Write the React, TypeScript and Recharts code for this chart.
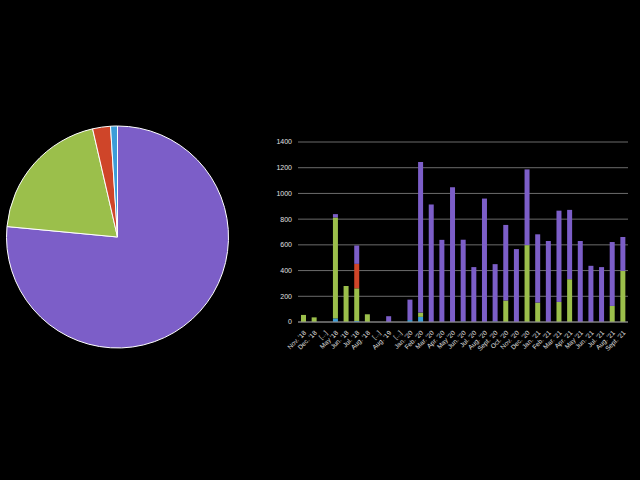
import { Bar, BarChart, CartesianGrid, Cell, Pie, PieChart, XAxis, YAxis } from 'recharts';

const months = [
  "Nov. '18", "Dec. '18", '[...]', "May '18", "Jun. '18", "Jul. '18", "Aug. '18", '[...]',
  "Aug. '19", '[...]', "Jan. '20", "Feb. '20", "Mar. '20", "Apr. '20", "May '20", "Jun. '20",
  "Jul. '20", "Aug. '20", "Sept. '20", "Oct. '20", "Nov. '20", "Dec. '20", "Jan. '21", "Feb. '21",
  "Mar. '21", "Apr. '21", "May '21", "Jun. '21", "Jul. '21", "Aug. '21", "Sept. '21",
];

const blueValues = [0, 0, 0, 28, 0, 8, 0, 0, 0, 0, 15, 40, 0, 0, 0, 4, 0, 0, 4, 0, 0, 0, 0, 0, 0, 0, 0, 0, 0, 0, 0];
const greenValues = [55, 36, 0, 785, 280, 254, 60, 0, 0, 0, 0, 33, 0, 0, 0, 0, 0, 0, 0, 167, 0, 598, 151, 0, 156, 333, 0, 0, 0, 125, 398];
const redValues = [0, 0, 0, 0, 0, 190, 0, 0, 0, 0, 0, 0, 0, 0, 0, 0, 0, 0, 0, 0, 0, 0, 0, 0, 0, 0, 0, 0, 0, 0, 0];
const purpleValues = [0, 0, 0, 26, 0, 143, 0, 0, 45, 0, 159, 1171, 914, 639, 1049, 636, 427, 960, 446, 588, 567, 589, 531, 630, 710, 539, 630, 437, 427, 497, 263];

const yTicks = [0, 200, 400, 600, 800, 1000, 1200, 1400];

const pieNames = ['purple', 'green', 'red', 'blue'];
const pieValues = [76.5, 19.9, 2.6, 1.0];

const PURPLE = '#7c5ec8';
const GREEN = '#9bbf4b';
const RED = '#cf4529';
const BLUE = '#3c9dd8';
const pieColors = [PURPLE, GREEN, RED, BLUE];

const barData = months.map((m, i) => ({
  month: m,
  blue: blueValues[i],
  green: greenValues[i],
  red: redValues[i],
  purple: purpleValues[i],
}));

const pieData = pieNames.map((n, i) => ({ name: n, value: pieValues[i] }));

const font = '"Liberation Sans", Arial, sans-serif';

export default function App() {
  return (
    <div style={{ position: 'fixed', top: 0, left: 0, width: 640, height: 480, background: '#000' }}>
      <div style={{ position: 'absolute', top: 0, left: 0 }}>
        <PieChart width={640} height={480} margin={{ top: 0, right: 0, bottom: 0, left: 0 }}>
          <Pie
            data={pieData}
            dataKey="value"
            cx={117.5}
            cy={237}
            outerRadius={111}
            startAngle={90}
            endAngle={-270}
            stroke="#ffffff"
            strokeWidth={1}
            isAnimationActive={false}
          >
            {pieData.map((d, i) => (
              <Cell key={d.name} fill={pieColors[i]} />
            ))}
          </Pie>
        </PieChart>
      </div>
      <div style={{ position: 'absolute', top: 0, left: 0 }}>
        <BarChart
          width={640}
          height={480}
          data={barData}
          margin={{ top: 142, right: 12, left: 268, bottom: 118 }}
        >
          <CartesianGrid vertical={false} stroke="#6b6b6b" />
          <XAxis
            dataKey="month"
            interval={0}
            height={40}
            axisLine={{ stroke: '#8a8a8a' }}
            tickLine={false}
            tickSize={0}
            tickMargin={8}
            angle={-45}
            textAnchor="end"
            tick={{ fill: '#e0e0e0', fontSize: 6.5, fontFamily: font }}
          />
          <YAxis
            domain={[0, 1400]}
            ticks={yTicks}
            width={30}
            axisLine={false}
            tickLine={false}
            tickSize={0}
            tickMargin={6}
            tick={{ fill: '#e0e0e0', fontSize: 7, fontFamily: font }}
          />
          <Bar dataKey="blue" stackId="a" fill={BLUE} barSize={5} isAnimationActive={false} />
          <Bar dataKey="green" stackId="a" fill={GREEN} barSize={5} isAnimationActive={false} />
          <Bar dataKey="red" stackId="a" fill={RED} barSize={5} isAnimationActive={false} />
          <Bar dataKey="purple" stackId="a" fill={PURPLE} barSize={5} isAnimationActive={false} />
        </BarChart>
      </div>
    </div>
  );
}
